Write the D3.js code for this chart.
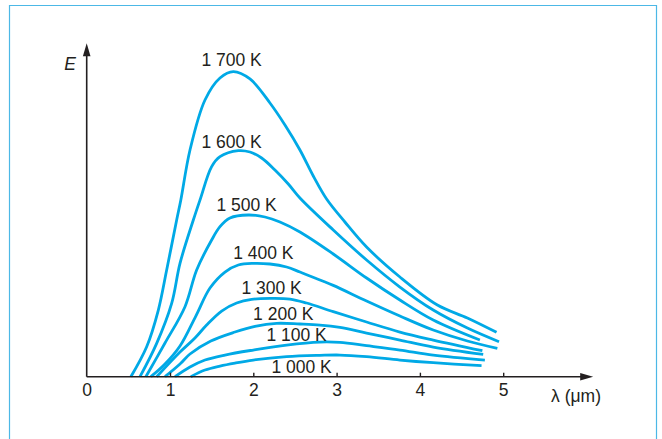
<!DOCTYPE html>
<html><head><meta charset="utf-8">
<script src="https://cdn.jsdelivr.net/npm/d3@7"></script>
<style>html,body{margin:0;padding:0;background:#fff;} svg{display:block;}</style>
</head><body><svg id="chart" width="662" height="439"></svg>
<script>
// ---- data (λ in µm, E in arbitrary units) ----
const seriesNames = ["1 700 K","1 600 K","1 500 K","1 400 K","1 300 K","1 200 K","1 100 K","1 000 K"];

const lambda1700 = [0.53,0.72,0.86,0.96,1.08,1.13,1.24,1.42,1.60,1.76,1.96,2.20,2.38,2.56,2.72,2.88,3.10,3.36,3.76,4.21,4.57,4.92];
const e1700      = [0,9.0,20.0,32.0,47.0,53.0,68.0,83.0,89.6,91.5,89.3,82.1,75.5,68.0,60.2,53.3,46.4,38.9,29.9,21.5,17.6,13.3];

const lambda1600 = [0.64,0.84,1.02,1.12,1.28,1.36,1.50,1.60,1.82,1.96,2.10,2.26,2.42,2.56,2.96,3.36,3.76,4.16,4.57,4.95];
const e1600      = [0,10.0,22.0,34.0,47.0,53.0,63.0,66.0,67.8,67.4,65.6,62.0,57.8,53.6,44.0,35.0,26.9,20.0,14.6,10.5];

const lambda1500 = [0.71,0.94,1.18,1.32,1.50,1.60,1.72,1.94,2.14,2.32,2.56,2.96,3.36,3.76,4.16,4.72];
const e1500      = [0,10.1,21.0,32.0,41.0,45.0,47.6,48.5,47.9,46.4,43.4,36.8,29.6,23.0,17.0,11.0];

const lambda1400 = [0.77,0.94,1.12,1.31,1.48,1.66,1.82,2.00,2.20,2.40,2.56,2.80,2.96,3.36,3.76,4.16,4.57,4.93];
const e1400      = [0,3.8,9.2,18.2,26.6,31.4,33.5,34.0,33.8,32.9,31.4,29.0,27.4,22.7,18.2,14.0,10.7,8.5];

const lambda1300 = [0.84,1.12,1.30,1.44,1.62,1.80,1.98,2.20,2.44,2.64,2.96,3.36,3.76,4.16,4.75];
const e1300      = [0,7.4,11.6,15.5,19.7,22.1,23.2,23.5,23.3,22.1,19.5,16.4,13.4,11.0,7.8];

const lambda1200 = [0.94,1.12,1.24,1.49,1.78,2.02,2.28,2.56,2.80,3.04,3.36,3.76,4.16,4.76];
const e1200      = [0,3.8,6.8,10.7,13.4,15.1,16.0,15.8,15.5,14.8,13.1,11.0,8.9,6.7];

const lambda1100 = [1.06,1.24,1.42,1.66,2.00,2.40,2.80,3.04,3.36,3.76,4.16,4.78];
const e1100      = [0,2.9,5.0,6.5,8.0,9.5,10.4,10.3,9.3,8.0,6.5,5.0];

const lambda1000 = [1.25,1.42,1.60,1.78,2.00,2.40,2.80,3.04,3.36,3.76,4.16,4.74];
const e1000      = [0,2.0,3.2,4.1,5.0,6.0,6.4,6.5,6.0,5.0,4.2,3.3];

// label anchors in data units
const labelLambda = [1.74,1.74,1.92,2.12,2.22,2.36,2.52,2.58];
const labelE      = [95.0,70.4,51.5,37.1,26.6,18.8,12.5,3.0];

const xTicks = [0,1,2,3,4,5];
const xTickLabels = ["0","1","2","3","4","5"];
const xAxisLabel = "λ (μm)";
const yAxisLabel = "E";

// ---- drawing ----
const lambdas = [lambda1700,lambda1600,lambda1500,lambda1400,lambda1300,lambda1200,lambda1100,lambda1000];
const energies = [e1700,e1600,e1500,e1400,e1300,e1200,e1100,e1000];
const series = seriesNames.map((name,i)=>({name, pts: lambdas[i].map((l,j)=>[l, energies[i][j]])}));

const svg = d3.select("#chart");
const FONT = "'Liberation Sans', Arial, Helvetica, sans-serif";
const INK = "#231f20";
const BLUE = "#00a9e6";

// frame
svg.append("path")
  .attr("d","M9.5,445 V5.5 H656.5 V445")
  .attr("fill","none").attr("stroke","#4cb8e6").attr("stroke-width",1.2);

const x = d3.scaleLinear().domain([0,5]).range([86.7,503.2]);
const y = d3.scaleLinear().domain([0,100]).range([376.7,43.3]);

// curves
const line = d3.line().x(d=>x(d[0])).y(d=>y(d[1])).curve(d3.curveCatmullRom.alpha(0.5));
svg.append("g").selectAll("path").data(series).join("path")
  .attr("d", d=>line(d.pts))
  .attr("fill","none").attr("stroke",BLUE).attr("stroke-width",2.8)
  .attr("stroke-linecap","butt").attr("stroke-linejoin","round");

// labels
svg.append("g").selectAll("text").data(series).join("text")
  .attr("x",(d,i)=>x(labelLambda[i]))
  .attr("y",(d,i)=>y(labelE[i]))
  .attr("dy","0.36em")
  .attr("text-anchor","middle")
  .attr("font-family",FONT).attr("font-size",17.5).attr("fill",INK)
  .text(d=>d.name);

// x axis
const xAxis = d3.axisBottom(x).tickValues(xTicks)
  .tickFormat((d,i)=>xTickLabels[i]).tickSize(-4).tickPadding(7);
const gx = svg.append("g").attr("transform",`translate(0,${y(0)})`).call(xAxis);
gx.select(".domain").remove();
gx.selectAll(".tick line").attr("stroke",INK).attr("stroke-width",1.4);
gx.selectAll(".tick").filter(d=>d===0).select("line").remove();
gx.selectAll(".tick text").attr("font-family",FONT).attr("font-size",17.5).attr("fill",INK);

// axis lines with arrows
const x0 = x(0), y0 = y(0);
const xEnd = x(6.08), yTop = y(100);
svg.append("line").attr("x1",x0).attr("y1",y0).attr("x2",xEnd-10).attr("y2",y0)
  .attr("stroke",INK).attr("stroke-width",1.6);
svg.append("line").attr("x1",x0).attr("y1",y0).attr("x2",x0).attr("y2",yTop+10)
  .attr("stroke",INK).attr("stroke-width",1.6);
svg.append("path").attr("d",`M${xEnd},${y0} L${xEnd-13},${y0-3.8} L${xEnd-13},${y0+3.8} Z`).attr("fill",INK);
svg.append("path").attr("d",`M${x0},${yTop} L${x0-3.8},${yTop+13} L${x0+3.8},${yTop+13} Z`).attr("fill",INK);

// axis titles
svg.append("text").attr("x",576).attr("y",402).attr("text-anchor","middle")
  .attr("font-family",FONT).attr("font-size",17.5).attr("fill",INK).text(xAxisLabel);
svg.append("text").attr("x",70).attr("y",70).attr("text-anchor","middle")
  .attr("font-family",FONT).attr("font-size",17.5).attr("font-style","italic").attr("fill",INK).text(yAxisLabel);
</script></body></html>
